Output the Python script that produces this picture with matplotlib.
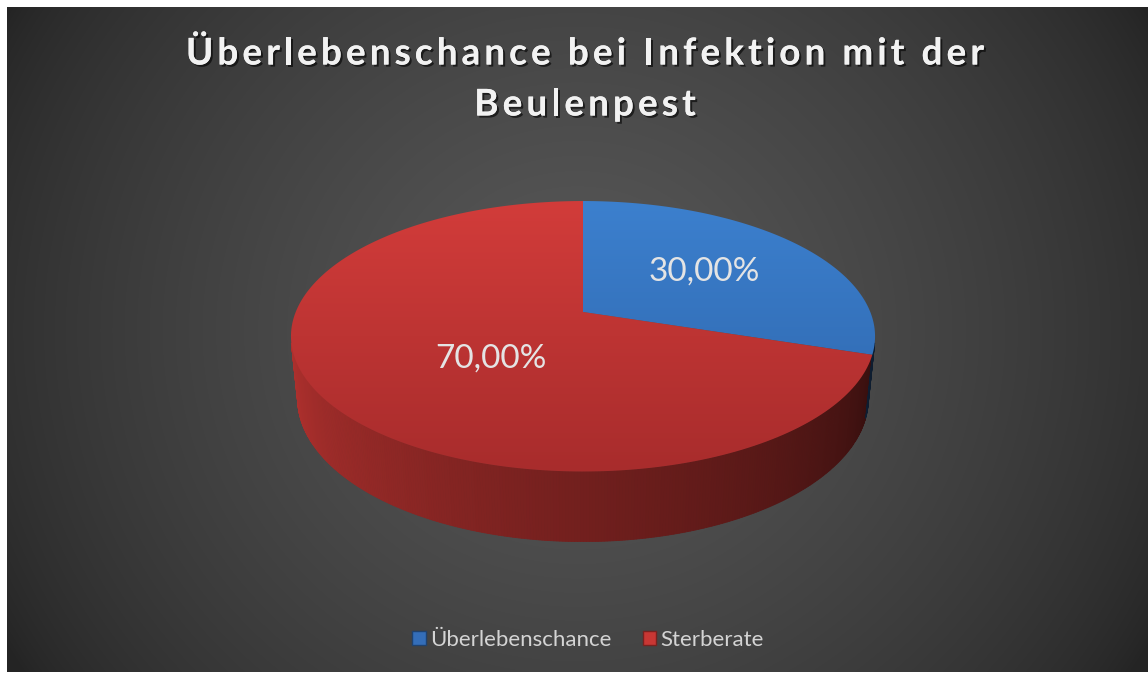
import numpy as np
import matplotlib
matplotlib.use("Agg")
import matplotlib.pyplot as plt
from matplotlib.patches import Polygon, Patch
from matplotlib.font_manager import FontProperties
import matplotlib.patheffects as pe

# ---------------- data ----------------
categories = ["Überlebenschance", "Sterberate"]
values = [30.0, 70.0]
value_labels = ["30,00%", "70,00%"]
title_lines = ["Überlebenschance bei Infektion mit der", "Beulenpest"]

# ---------------- style ----------------
W, H = 1148, 673
top_colors = [((60, 128, 206), (45, 100, 170)), ((210, 60, 58), (168, 44, 44))]
base_colors = [(52, 110, 185), (200, 55, 52)]
label_r = [0.55, 0.45]
label_dtheta = [0.0, 12.0]

fig = plt.figure(figsize=(W / 100, H / 100), dpi=100)
ax = fig.add_axes([0, 0, 1, 1])
ax.set_xlim(0, W)
ax.set_ylim(H, 0)
ax.axis("off")

# background: white frame + dark radial gradient
x0b, y0b, x1b, y1b = 7, 7, 1148, 672
yy, xx = np.mgrid[y0b:y1b, x0b:x1b]
d = np.sqrt((xx - 577.0) ** 2 + ((yy - 330.0) * 1.05) ** 2) / 660.0
g = np.clip(1 - d, 0, 1) ** 0.7
c = (36 + 54 * g) / 255.0
bg = np.dstack([c, c, c])
ax.imshow(bg, extent=(x0b, x1b, y1b, y0b), zorder=0, interpolation="bilinear", aspect="auto")

# ---------------- 3D perspective projection ----------------
cx, cy = 583.0, 312.0
elev = np.radians(27.1)
se, ce = np.sin(elev), np.cos(elev)
Dd = 4.96
fpx = 1425.0
Hth = 0.245


def proj(theta_deg, r=1.0, z=0.0):
    t = np.radians(theta_deg)
    X = r * np.cos(t)
    Y = r * np.sin(t)
    yc = Y * se + z * ce
    zc = Dd + Y * ce - z * se
    return cx + fpx * X / zc, cy - fpx * yc / zc


# slice angle ranges (clockwise from 12 o'clock)
total = sum(values)
starts, ends = [], []
a = 90.0
for v in values:
    starts.append(a)
    a2 = a - 360.0 * v / total
    ends.append(a2)
    a = a2


def slice_of(theta):
    for i, (s, e) in enumerate(zip(starts, ends)):
        for k in (-360, 0, 360):
            if e <= theta + k <= s:
                return i
    return 0


# visible outer wall
alpha = np.degrees(np.arccos(1.0 / (Dd * ce)))
th_lo, th_hi = -90 - alpha, -90 + alpha
step = 0.5
thetas = np.arange(th_lo, th_hi, step)
for t in thetas:
    t2 = min(t + step, th_hi)
    i = slice_of((t + t2) / 2)
    fac = 0.88 - 0.62 * (t - th_lo) / (th_hi - th_lo)
    col = np.array(base_colors[i]) / 255.0 * fac
    p1 = proj(t, 1, 0)
    p2 = proj(t2, 1, 0)
    p3 = proj(t2, 1, -Hth)
    p4 = proj(t, 1, -Hth)
    ax.add_patch(Polygon([p1, p2, p3, p4], closed=True, facecolor=col,
                         edgecolor=col, lw=0.6, zorder=2))

# top faces with vertical gradient
ytop = proj(90, 1, 0)[1]
ybot = proj(-90, 1, 0)[1]
for i, (s, e) in enumerate(zip(starts, ends)):
    ts = np.linspace(s, e, 200)
    pts = [proj(0, 0, 0)] + [proj(t, 1, 0) for t in ts]
    poly = Polygon(pts, closed=True, facecolor="none", edgecolor="none", zorder=3)
    ax.add_patch(poly)
    c0 = np.array(top_colors[i][0]) / 255.0
    c1 = np.array(top_colors[i][1]) / 255.0
    tt = np.linspace(0, 1, 256)[:, None]
    grad = c0[None, :] * (1 - tt) + c1[None, :] * tt
    img = ax.imshow(grad[:, None, :], extent=(280, 890, ybot, ytop), zorder=3,
                    aspect="auto", interpolation="bilinear")
    img.set_clip_path(poly)

# data labels
for i, (s, e) in enumerate(zip(starts, ends)):
    mid = (s + e) / 2 + label_dtheta[i]
    lx, ly = proj(mid, label_r[i], 0)
    ax.text(lx, ly, value_labels[i], ha="center", va="center", color="#e4e4e4",
            fontsize=24, family="Lato", zorder=5)

# title with letter spacing
fp = FontProperties(family="Lato", weight="bold", size=26.5)
renderer = fig.canvas.get_renderer()


def tw(s):
    if not s:
        return 0.0
    return renderer.get_text_width_height_descent(s, fp, ismath=False)[0]


target_w = 798.0
line1 = title_lines[0]
track = (target_w - tw(line1)) / (len(line1) - 1)
shadow = [pe.withSimplePatchShadow(offset=(1.5, -1.5), shadow_rgbFace="black", alpha=0.6),
          pe.Normal()]
title_y = [54, 105]
for line, yb in zip(title_lines, title_y):
    full = tw(line) + track * (len(line) - 1)
    xs = 585 - full / 2
    for k, ch in enumerate(line):
        if ch == " ":
            continue
        x = xs + tw(line[:k]) + track * k
        ax.text(x, yb, ch, ha="left", va="center", fontproperties=fp,
                color="#f2f2f2", zorder=6, path_effects=shadow)

# legend
handles = [Patch(facecolor=np.array(base_colors[i]) / 255.0,
                 edgecolor=np.array(base_colors[i]) / 255.0 * 0.6, label=categories[i])
           for i in range(len(categories))]
leg = ax.legend(handles=handles, loc="center", bbox_to_anchor=(588 / W, 1 - 640 / H),
                ncol=2, frameon=False, handlelength=0.6, handleheight=0.6,
                handletextpad=0.2, columnspacing=1.4, prop={"family": "Lato", "size": 16})
for t in leg.get_texts():
    t.set_color("#d4d4d4")

fig.savefig("out.png", dpi=100, facecolor="white")
